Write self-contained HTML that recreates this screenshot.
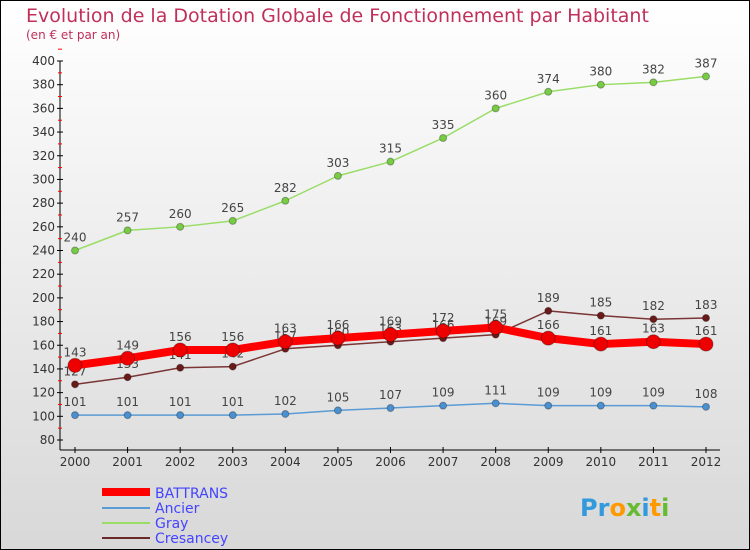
<!DOCTYPE html>
<html><head><meta charset="utf-8"><style>
body{margin:0}
#c{width:750px;height:550px;position:relative;overflow:hidden;font-family:"DejaVu Sans","Liberation Sans",sans-serif}
</style></head><body>
<div id="c">
<svg width="750" height="550" id="svg">
<defs><linearGradient id="bg" x1="0" y1="0" x2="0" y2="1"><stop offset="0" stop-color="#ffffff"/><stop offset="1" stop-color="#d8d8d8"/></linearGradient></defs>
<rect x="0.5" y="0.5" width="749" height="549" fill="url(#bg)" stroke="#000"/>
<text x="26" y="22" font-size="19" fill="#c0305a">Evolution de la Dotation Globale de Fonctionnement par Habitant</text>
<text x="26" y="39" font-size="12" fill="#c0305a">(en € et par an)</text>
<g id="axes"></g><g id="series"></g>
<g>
<line x1="102" y1="492" x2="150" y2="492" stroke="#ff0000" stroke-width="8"/>
<text x="155" y="498" font-size="14" fill="#4444ff">BATTRANS</text>
<line x1="102" y1="508" x2="150" y2="508" stroke="#5b9bd5" stroke-width="2"/>
<text x="155" y="513" font-size="14" fill="#4444ff">Ancier</text>
<line x1="102" y1="523" x2="150" y2="523" stroke="#99dd66" stroke-width="2"/>
<text x="155" y="528" font-size="14" fill="#4444ff">Gray</text>
<line x1="102" y1="538" x2="150" y2="538" stroke="#6b2a2a" stroke-width="2"/>
<text x="155" y="543" font-size="14" fill="#4444ff">Cresancey</text>
</g>
<text x="580" y="516" font-size="24" font-weight="bold"><tspan fill="#3399dd">Pr</tspan><tspan fill="#ff9900">o</tspan><tspan fill="#66bb33">x</tspan><tspan fill="#3399dd">i</tspan><tspan fill="#ff9900">t</tspan><tspan fill="#66bb33">i</tspan></text>
</svg>
</div>
<script>
const years=[2000,2001,2002,2003,2004,2005,2006,2007,2008,2009,2010,2011,2012];
const battrans=[143,149,156,156,163,166,169,172,175,166,161,163,161];
const ancier=[101,101,101,101,102,105,107,109,111,109,109,109,108];
const gray=[240,257,260,265,282,303,315,335,360,374,380,382,387];
const cresancey=[127,133,141,142,157,160,163,166,169,189,185,182,183];
const yTicks=[80,100,120,140,160,180,200,220,240,260,280,300,320,340,360,380,400];
const NS='http://www.w3.org/2000/svg';
const x=i=>75+i*(706-75)/(years.length-1);
const y=v=>440-(v-80)*(440-61)/320;
function mk(t,a,p){const e=document.createElementNS(NS,t);for(const k in a)e.setAttribute(k,a[k]);p.appendChild(e);return e;}
const ax=document.getElementById('axes');
const yl=mk('line',{x1:60,y1:y(400),x2:60,y2:y(80)+10,stroke:'#000'},ax);


yTicks.forEach(v=>{
 mk('line',{x1:57,y1:y(v),x2:63,y2:y(v),stroke:'#000'},ax);
 mk('line',{x1:58,y1:y(v+10),x2:62,y2:y(v+10),stroke:'#ff0000'},ax);
 const t=mk('text',{x:55,y:y(v)+4,'font-size':12,fill:'#333','text-anchor':'end'},ax);t.textContent=v;
 
 
});
const xl=mk('line',{x1:60,y1:450,x2:720,y2:450,stroke:'#000'},ax);


years.forEach((yr,i)=>{
 mk('line',{x1:x(i),y1:447,x2:x(i),y2:453,stroke:'#000'},ax);
 const t=mk('text',{x:x(i),y:466,'font-size':12,fill:'#333','text-anchor':'middle'},ax);t.textContent=yr;
 
 
});
const sg=document.getElementById('series');
function draw(name,data,color,w,r,dot){
 const g=mk('g',{},sg);
 
 
 const p=mk('polyline',{points:data.map((v,i)=>x(i)+','+y(v)).join(' '),fill:'none',stroke:color,'stroke-width':w,'stroke-linejoin':'round'},g);
 
 
 data.forEach((v,i)=>{
  const c=mk('circle',{cx:x(i),cy:y(v),r:r,fill:dot,stroke:'rgba(0,0,0,0.3)'},g);
  
  
  const t=mk('text',{x:x(i),y:y(v)-9,'font-size':12,fill:'#444','text-anchor':'middle'},g);t.textContent=v;
  
  
 });
}
draw('ancier',ancier,'#5b9bd5',1.5,3.5,'#4a90d0');
draw('gray',gray,'#99dd66',1.5,3.5,'#77cc44');
draw('cresancey',cresancey,'#7a3535',1.5,3.5,'#6b1a1a');
draw('battrans',battrans,'#ff0000',8,7,'#ee0000');
</script>
</body></html>
